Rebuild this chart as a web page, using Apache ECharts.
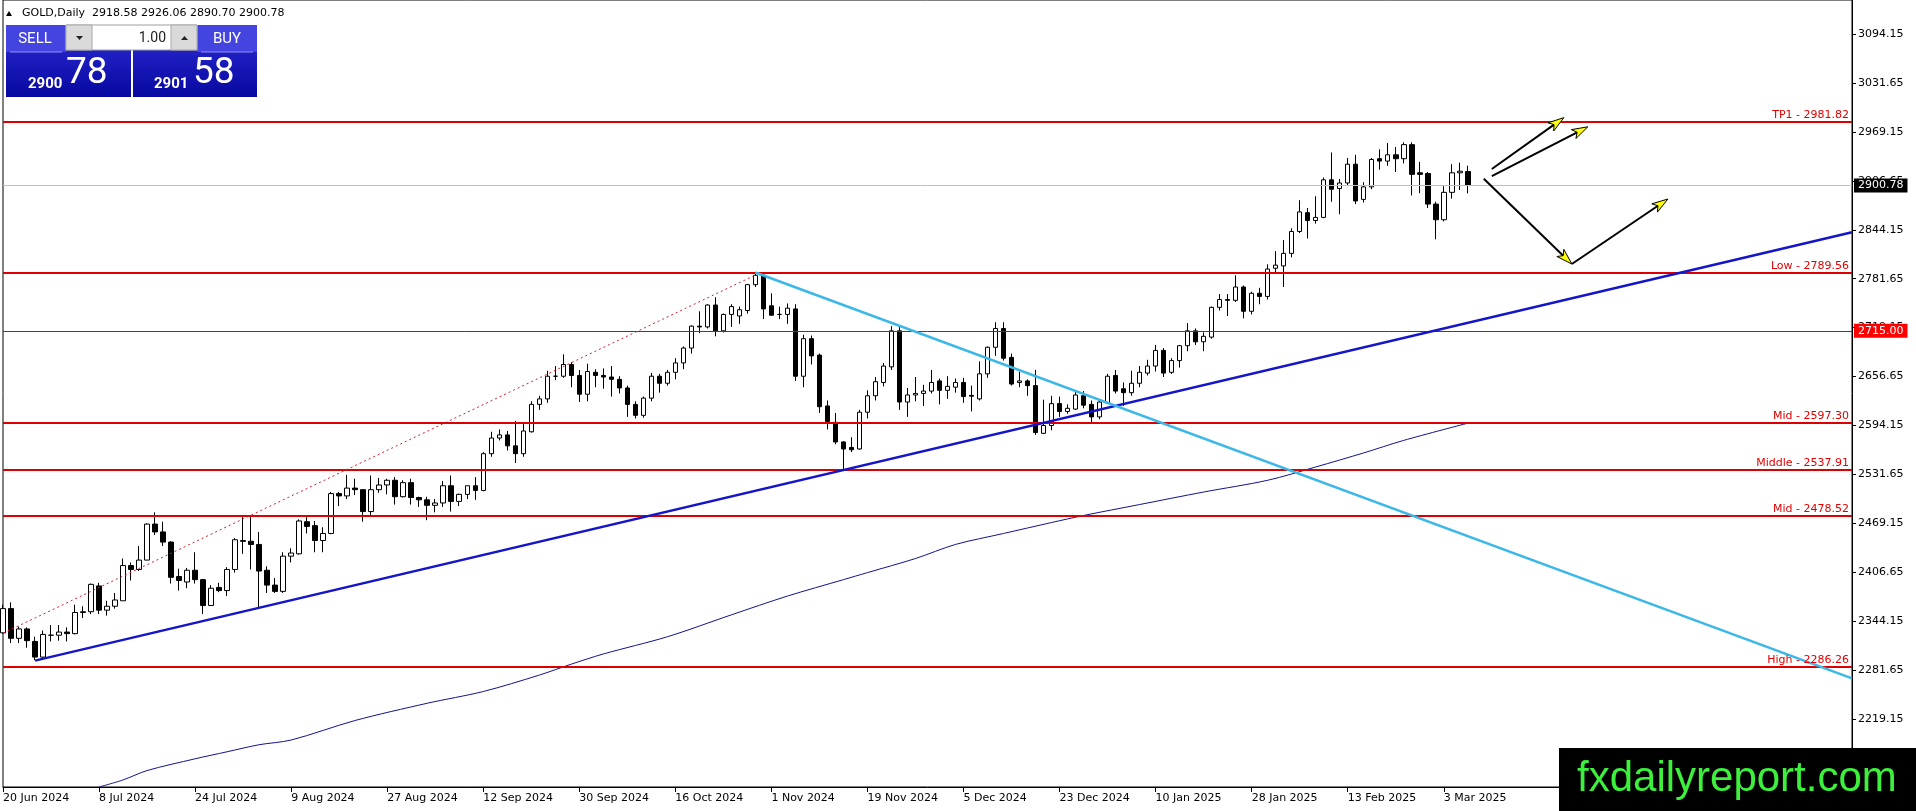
<!DOCTYPE html>
<html>
<head>
<meta charset="utf-8">
<title>GOLD, Daily</title>
<script src="https://cdn.jsdelivr.net/npm/echarts@6/dist/echarts.min.js"></script>
<style>
  html, body { margin: 0; padding: 0; background: #fff; }
  #chart { width: 1916px; height: 811px; }
</style>
</head>
<body>
<div id="chart"></div>
<script>
// trading days shown on the chart (broker skips 25 Dec and 1 Jan)
const dates = [
  '20 Jun 2024','21 Jun 2024','24 Jun 2024','25 Jun 2024','26 Jun 2024','27 Jun 2024','28 Jun 2024',
  '1 Jul 2024','2 Jul 2024','3 Jul 2024','4 Jul 2024','5 Jul 2024','8 Jul 2024','9 Jul 2024','10 Jul 2024','11 Jul 2024','12 Jul 2024','15 Jul 2024','16 Jul 2024','17 Jul 2024','18 Jul 2024','19 Jul 2024','22 Jul 2024','23 Jul 2024','24 Jul 2024','25 Jul 2024','26 Jul 2024','29 Jul 2024','30 Jul 2024','31 Jul 2024',
  '1 Aug 2024','2 Aug 2024','5 Aug 2024','6 Aug 2024','7 Aug 2024','8 Aug 2024','9 Aug 2024','12 Aug 2024','13 Aug 2024','14 Aug 2024','15 Aug 2024','16 Aug 2024','19 Aug 2024','20 Aug 2024','21 Aug 2024','22 Aug 2024','23 Aug 2024','26 Aug 2024','27 Aug 2024','28 Aug 2024','29 Aug 2024','30 Aug 2024',
  '2 Sep 2024','3 Sep 2024','4 Sep 2024','5 Sep 2024','6 Sep 2024','9 Sep 2024','10 Sep 2024','11 Sep 2024','12 Sep 2024','13 Sep 2024','16 Sep 2024','17 Sep 2024','18 Sep 2024','19 Sep 2024','20 Sep 2024','23 Sep 2024','24 Sep 2024','25 Sep 2024','26 Sep 2024','27 Sep 2024','30 Sep 2024',
  '1 Oct 2024','2 Oct 2024','3 Oct 2024','4 Oct 2024','7 Oct 2024','8 Oct 2024','9 Oct 2024','10 Oct 2024','11 Oct 2024','14 Oct 2024','15 Oct 2024','16 Oct 2024','17 Oct 2024','18 Oct 2024','21 Oct 2024','22 Oct 2024','23 Oct 2024','24 Oct 2024','25 Oct 2024','28 Oct 2024','29 Oct 2024','30 Oct 2024','31 Oct 2024',
  '1 Nov 2024','4 Nov 2024','5 Nov 2024','6 Nov 2024','7 Nov 2024','8 Nov 2024','11 Nov 2024','12 Nov 2024','13 Nov 2024','14 Nov 2024','15 Nov 2024','18 Nov 2024','19 Nov 2024','20 Nov 2024','21 Nov 2024','22 Nov 2024','25 Nov 2024','26 Nov 2024','27 Nov 2024','28 Nov 2024','29 Nov 2024',
  '2 Dec 2024','3 Dec 2024','4 Dec 2024','5 Dec 2024','6 Dec 2024','9 Dec 2024','10 Dec 2024','11 Dec 2024','12 Dec 2024','13 Dec 2024','16 Dec 2024','17 Dec 2024','18 Dec 2024','19 Dec 2024','20 Dec 2024','23 Dec 2024','24 Dec 2024','26 Dec 2024','27 Dec 2024','30 Dec 2024','31 Dec 2024',
  '2 Jan 2025','3 Jan 2025','6 Jan 2025','7 Jan 2025','8 Jan 2025','9 Jan 2025','10 Jan 2025','13 Jan 2025','14 Jan 2025','15 Jan 2025','16 Jan 2025','17 Jan 2025','20 Jan 2025','21 Jan 2025','22 Jan 2025','23 Jan 2025','24 Jan 2025','27 Jan 2025','28 Jan 2025','29 Jan 2025','30 Jan 2025','31 Jan 2025',
  '3 Feb 2025','4 Feb 2025','5 Feb 2025','6 Feb 2025','7 Feb 2025','10 Feb 2025','11 Feb 2025','12 Feb 2025','13 Feb 2025','14 Feb 2025','17 Feb 2025','18 Feb 2025','19 Feb 2025','20 Feb 2025','21 Feb 2025','24 Feb 2025','25 Feb 2025','26 Feb 2025','27 Feb 2025','28 Feb 2025',
  '3 Mar 2025','4 Mar 2025','5 Mar 2025','6 Mar 2025'
];
const emptySlots = 48; // blank space right of the last bar

const open = [
  2329,2360,2322,2334,2318,2298,2326,
  2326,2330,2328,2355,2356,2389,2358,2363,2370,2415,2410,2422,2468,2458,2445,2401,2394,2409,2397,2364,2387,2383,2410,
  2447,2446,2442,2409,2390,2382,2427,2430,2471,2466,2447,2456,2507,2504,2514,2512,2484,2512,2518,2524,2503,2521,
  2502,2499,2492,2495,2517,2497,2506,2517,2511,2558,2578,2582,2568,2558,2586,2621,2628,2657,2657,2672,2658,
  2634,2662,2658,2656,2653,2642,2621,2607,2629,2657,2648,2662,2674,2693,2721,2720,2748,2715,2736,2734,2741,2774,2786,
  2747,2736,2736,2743,2657,2705,2684,2619,2598,2573,2566,2564,2611,2632,2649,2669,2715,2624,2633,2635,2638,
  2651,2639,2643,2649,2632.5,2628,2660,2694,2718,2681,2649,2651,2645,2584,2594,2622,2612,2615,2632,2621,2605,
  2623,2658,2641,2636,2648,2661,2670,2690,2662,2677,2696,2715,2701,2707,2745,2755,2754,2771,2740,2763,2759,2795,
  2798,2814,2842,2866,2856,2860,2908,2897,2904,2928,2883,2899,2935,2932,2940,2935,2953,2917,2916,2877,
  2857,2892,2917,2918.58
];
const high = [
  2365,2368,2337,2336,2324,2332,2339,
  2339,2336,2365,2363,2392,2393,2370,2380,2424,2419,2440,2469,2483,2471,2446,2411,2412,2432,2398,2390,2393,2413,2450,
  2477,2477,2458,2414,2399,2432,2437,2474,2477,2472,2464,2509,2509,2531,2526,2512,2530,2527,2526,2528,2524,2526,
  2503,2503,2500,2523,2530,2507,2517,2528,2560,2586,2589,2587,2600,2597,2625,2632,2664,2670,2685,2675,2665,
  2673,2666,2667,2670,2657,2645,2625,2631,2661,2660,2665,2680,2695,2722,2740,2749,2758,2737,2749,2746,2775,2790,2790,
  2763,2746,2750,2749,2710,2709,2686,2626,2610,2574,2579,2614,2639,2656,2674,2721,2721,2642,2656,2646,2665,
  2654,2657,2654,2655,2645,2676,2695,2726,2726,2686,2663,2653,2665,2627,2632,2631,2621,2638,2638,2626,2627,
  2660,2665,2649,2664,2670,2678,2697,2693,2680,2697,2725,2718,2713,2746,2762,2762,2786,2773,2765,2770,2800,2817,
  2831,2846,2882,2872,2887,2911,2943,2909,2936,2940,2905,2936,2947,2955,2950,2956,2956,2931,2918,2880,
  2900,2928,2930,2926.06
];
const low = [
  2328,2316,2316,2310,2294,2297,2318,
  2319,2318,2327,2348,2353,2353,2351,2360,2370,2396,2408,2422,2454,2440,2392,2383,2386,2392,2353,2364,2381,2376,2406,
  2430,2410,2362,2380,2380,2380,2419,2429,2456,2432,2432,2455,2491,2500,2505,2471,2478,2508,2506,2493,2502,2493,
  2490,2473,2483,2490,2484,2491,2500,2499,2510,2554,2575,2562,2546,2554,2585,2614,2623,2652,2655,2643,2624,
  2625,2643,2641,2631,2635,2605,2603,2604,2625,2636,2645,2653,2666,2686,2712,2718,2708,2713,2720,2724,2737,2771,2730,
  2734,2730,2724,2651,2643,2672,2610,2589,2570,2537,2560,2563,2603,2626,2644,2665,2614,2605,2625,2619,2635,
  2621,2628,2636,2623,2612,2626,2655,2683,2677,2645,2643,2632,2582,2583,2588,2605,2609,2614,2616,2597,2602,
  2622,2635,2619,2632,2643,2658,2663,2656,2660,2668,2689,2697,2689,2705,2741,2734,2752,2731,2736,2749,2755,2790,
  2771,2809,2840,2833,2852,2859,2880,2864,2900,2877,2879,2896,2921,2926,2918,2929,2888,2891,2872,2832,
  2855,2884,2895,2890.70
];
const close = [
  2360,2322,2334,2319,2298,2327,2326,
  2330,2328,2355,2356,2391,2358,2363,2371,2415,2410,2422,2468,2458,2445,2400,2396,2409,2397,2364,2386,2383,2410,2448,
  2446,2442,2408,2390,2382,2427,2431,2472,2465,2447,2456,2507,2504,2514,2512,2484,2512,2518,2524,2503,2521,2502,
  2499,2492,2495,2517,2497,2506,2517,2511,2558,2578,2582,2568,2558,2587,2621,2628,2657,2657,2672,2658,2634,
  2663,2658,2656,2653,2642,2621,2607,2629,2657,2648,2662,2674,2693,2721,2720,2748,2715,2736,2746,2742,2774,2786,2743,
  2735,2736,2744,2657,2705,2683,2618,2599,2573,2564,2563,2611,2632,2650,2670,2715,2624,2633,2635,2638,2649,
  2639,2644,2649,2631,2631.5,2660,2694,2718,2680,2647,2651,2645,2585,2594,2622,2612,2616,2633,2620,2605,2624,
  2657,2638,2636,2648,2662,2670,2690,2661,2677,2696,2715,2701,2708,2745,2755,2754,2771,2740,2763,2759,2794,2799,
  2814,2842,2867,2856,2860,2908,2896,2904,2928,2881,2899,2934,2932,2940,2935,2953,2915,2915,2877,2857,
  2892,2917,2919,2900.78
];

// moving average: [bar index, price]
const maPoints = [
  [12,2132],[15,2141],[18,2153],[24,2168],[28,2177],[32,2186],[36,2192],[44,2217],[53,2239],
  [60,2254],[67,2275],[71,2289],[75,2302],[83,2324],[91,2352],[98,2376],[105,2397],[108,2406],
  [114,2424],[119,2442],[125,2456],[131,2470],[135,2479],[142,2493],[150,2509],[158,2524],
  [164,2541],[170,2559],[175,2575],[183,2597]
];

const priceTicks = [2219.15,2281.65,2344.15,2406.65,2469.15,2531.65,2594.15,2656.65,
  2719.15,2781.65,2844.15,2906.65,2969.15,3031.65,3094.15];
const priceMin = 2131.97;
const priceMax = 3137.86;

const levelPrices = [2981.82, 2789.56, 2597.30, 2537.91, 2478.52, 2286.26];
const levelNames = ['TP1', 'Low', 'Mid', 'Middle', 'Mid', 'High'];
const markedPrice = 2715.00;
const bidPrice = 2900.78;
const askPrice = 2901.58;

// trend lines: [bar index, price]
const supportLine = [[4, 2293.5], [231, 2841.0]];
const resistanceLine = [[94, 2789.6], [231, 2270.9]];
const channelLine = [[0, 2328.5], [94, 2786.3]];

// hand-drawn arrows: [from, to] in [bar index, price]
const arrows = [
  [[185.7, 2921.9], [195.3, 2987.5]],
  [[185.5, 2912.8], [197.6, 2975.8]],
  [[185.0, 2909.5], [195.5, 2800.4]],
  [[195.5, 2800.4], [208.2, 2883.5]]
];

const chartDom = document.getElementById('chart');
const chart = echarts.init(chartDom);

const categories = dates.concat(new Array(emptySlots).fill(''));
const candles = dates.map(function (d, i) {
  return [open[i], close[i], low[i], high[i]];
});
const labelEvery = function (index, value) {
  return index % 12 === 0 && value !== '';
};
const font = 'DejaVu Sans';

const levelLines = levelPrices.map(function (p, i) {
  return {
    yAxis: p,
    lineStyle: { color: '#dc0000', width: 2, type: 'solid' },
    label: {
      show: true,
      position: 'insideEndTop',
      distance: [3, 1],
      formatter: levelNames[i] + ' - ' + p.toFixed(2),
      color: '#e00000',
      fontSize: 11,
      fontFamily: font
    }
  };
});

const boxLabel = function (bg) {
  return {
    show: true,
    position: 'end',
    distance: 2,
    formatter: function (p) { return p.value.toFixed(2); },
    color: '#fff',
    backgroundColor: bg,
    padding: [2, 4, 1, 4],
    fontSize: 11,
    fontFamily: font
  };
};

const trend = function (pts, color, width, type) {
  return [
    { coord: pts[0], lineStyle: { color: color, width: width, type: type }, label: { show: false } },
    { coord: pts[1], lineStyle: { color: color, width: width, type: type }, label: { show: false } }
  ];
};

const option = {
  animation: false,
  backgroundColor: '#fff',
  grid: {
    left: 3, right: 64, top: 0, bottom: 24,
    show: true, borderColor: '#000', borderWidth: 1, backgroundColor: '#fff',
    containLabel: false, outerBoundsMode: 'none'
  },
  xAxis: {
    type: 'category',
    data: categories,
    boundaryGap: false,
    axisLine: { show: true, lineStyle: { color: '#000', width: 1 } },
    axisTick: { show: true, interval: labelEvery, length: 5, lineStyle: { color: '#000' } },
    axisLabel: {
      interval: labelEvery, align: 'left', margin: 6,
      color: '#000', fontSize: 11, fontFamily: font
    },
    splitLine: { show: false }
  },
  yAxis: {
    type: 'value',
    position: 'right',
    min: priceMin,
    max: priceMax,
    scale: true,
    axisLine: { show: true, lineStyle: { color: '#000', width: 1 } },
    axisTick: { show: true, customValues: priceTicks, length: 4, lineStyle: { color: '#000' } },
    axisLabel: {
      customValues: priceTicks, margin: 6,
      formatter: function (v) { return v.toFixed(2); },
      color: '#000', fontSize: 11, fontFamily: font
    },
    splitLine: { show: false }
  },
  series: [
    {
      name: 'GOLD',
      type: 'candlestick',
      data: candles,
      barWidth: 5,
      silent: true,
      clip: true,
      itemStyle: {
        color: '#fff', color0: '#000',
        borderColor: '#000', borderColor0: '#000', borderWidth: 1
      }
    },
    {
      name: 'MA',
      type: 'line',
      data: maPoints,
      symbol: 'none',
      silent: true,
      smooth: 0.3,
      lineStyle: { color: '#12128c', width: 1 },
      z: 3
    },
    {
      name: 'levels',
      type: 'line',
      data: [],
      clip: false,
      silent: true,
      z: 5,
      markLine: {
        silent: true,
        animation: false,
        symbol: ['none', 'none'],
        precision: 2,
        data: levelLines.concat([
          { yAxis: markedPrice, lineStyle: { color: '#e00000', width: 1, type: 'solid' }, label: boxLabel('#ff0000') },
          { yAxis: bidPrice, lineStyle: { color: '#c0c0c0', width: 1, type: 'solid' }, label: boxLabel('#000') },
          trend(supportLine, '#1414c8', 2.5, 'solid'),
          trend(resistanceLine, '#3cb8e8', 2.5, 'solid'),
          trend(channelLine, '#d02030', 1, [2, 3])
        ])
      }
    }
  ]
};

chart.setOption(option);

const last = dates.length - 1;
const header = 'GOLD,Daily  ' + [open[last], high[last], low[last], close[last]]
  .map(function (v) { return v.toFixed(2); }).join(' ');

const blueFill = function () {
  return new echarts.graphic.LinearGradient(0, 0, 0, 1, [
    { offset: 0, color: '#2f2fd8' },
    { offset: 1, color: '#0707a0' }
  ]);
};
const priceParts = function (p) {
  return p.toFixed(2).split('.');
};
const bid = priceParts(bidPrice);
const ask = priceParts(askPrice);

const txt = function (text, x, y, size, opts) {
  opts = opts || {};
  return {
    type: 'text', z: 102,
    style: {
      text: text, x: x, y: y,
      fill: opts.fill || '#fff',
      fontSize: size,
      fontFamily: opts.family || 'Roboto',
      fontWeight: opts.weight || 'normal',
      align: opts.align || 'left', textAlign: opts.align || 'left',
      verticalAlign: 'middle', textVerticalAlign: 'middle'
    }
  };
};

const staticGraphics = [
  // header
  { type: 'polygon', z: 102, shape: { points: [[6, 16], [12, 16], [9, 11]] }, style: { fill: '#000' } },
  txt(header, 22, 13, 11, { fill: '#000', family: font }),
  // sell block
  { type: 'rect', z: 100, shape: { x: 6, y: 25, width: 125, height: 72 }, style: { fill: blueFill() } },
  { type: 'rect', z: 101, shape: { x: 6, y: 25, width: 60, height: 27 }, style: { fill: '#4444e0' } },
  { type: 'line', z: 101, shape: { x1: 10, y1: 52, x2: 62, y2: 52 }, style: { stroke: '#8e8ef2', lineWidth: 1 } },
  txt('SELL', 35, 39, 15, { align: 'center' }),
  txt(bid[0], 28, 84, 15, { weight: 'bold' }),
  txt(bid[1], 66, 74, 37),
  // buy block
  { type: 'rect', z: 100, shape: { x: 133, y: 25, width: 124, height: 72 }, style: { fill: blueFill() } },
  { type: 'rect', z: 101, shape: { x: 197, y: 25, width: 60, height: 27 }, style: { fill: '#4444e0' } },
  { type: 'line', z: 101, shape: { x1: 201, y1: 52, x2: 253, y2: 52 }, style: { stroke: '#8e8ef2', lineWidth: 1 } },
  txt('BUY', 227, 39, 15, { align: 'center' }),
  txt(ask[0], 154, 84, 15, { weight: 'bold' }),
  txt(ask[1], 193, 74, 37),
  // lot spinner
  { type: 'rect', z: 101, shape: { x: 66, y: 25, width: 131, height: 25 }, style: { fill: '#fff', stroke: '#a0a0a0', lineWidth: 1 } },
  { type: 'rect', z: 102, shape: { x: 66, y: 25, width: 26, height: 25 }, style: { fill: '#dadada', stroke: '#a8a8a8', lineWidth: 1 } },
  { type: 'rect', z: 102, shape: { x: 171, y: 25, width: 26, height: 25 }, style: { fill: '#dadada', stroke: '#a8a8a8', lineWidth: 1 } },
  { type: 'polygon', z: 103, shape: { points: [[76, 36], [83, 36], [79.5, 40]] }, style: { fill: '#222' } },
  { type: 'polygon', z: 103, shape: { points: [[181, 40], [188, 40], [184.5, 36]] }, style: { fill: '#222' } },
  txt('1.00', 166, 38, 14, { fill: '#222', align: 'right' }),
  // watermark
  { type: 'rect', z: 110, shape: { x: 1559, y: 748, width: 357, height: 63 }, style: { fill: '#000' } },
  txt('fxdailyreport.com', 1577, 779, 42, { fill: '#3cf03c', family: 'Liberation Sans' })
];
staticGraphics[staticGraphics.length - 1].z = 111;

function arrowGraphics() {
  const out = [];
  arrows.forEach(function (a) {
    const p0 = chart.convertToPixel({ gridIndex: 0 }, a[0]);
    const p1 = chart.convertToPixel({ gridIndex: 0 }, a[1]);
    const dx = p1[0] - p0[0];
    const dy = p1[1] - p0[1];
    const len = Math.sqrt(dx * dx + dy * dy);
    const ux = dx / len;
    const uy = dy / len;
    const bx = p1[0] - ux * 16;
    const by = p1[1] - uy * 16;
    out.push({
      type: 'line', z: 50,
      shape: { x1: p0[0], y1: p0[1], x2: bx + ux * 4, y2: by + uy * 4 },
      style: { stroke: '#000', lineWidth: 2 }
    });
    out.push({
      type: 'polygon', z: 51,
      shape: { points: [[p1[0], p1[1]], [bx - uy * 5, by + ux * 5], [bx + ux * 4, by + uy * 4], [bx + uy * 5, by - ux * 5]] },
      style: { fill: '#ffff00', stroke: '#000', lineWidth: 1 }
    });
  });
  return out;
}

chart.setOption({ graphic: staticGraphics.concat(arrowGraphics()) });

window.addEventListener('resize', function () {
  if (chart != null && chart != undefined) {
    chart.resize();
  }
});
</script>
</body>
</html>
